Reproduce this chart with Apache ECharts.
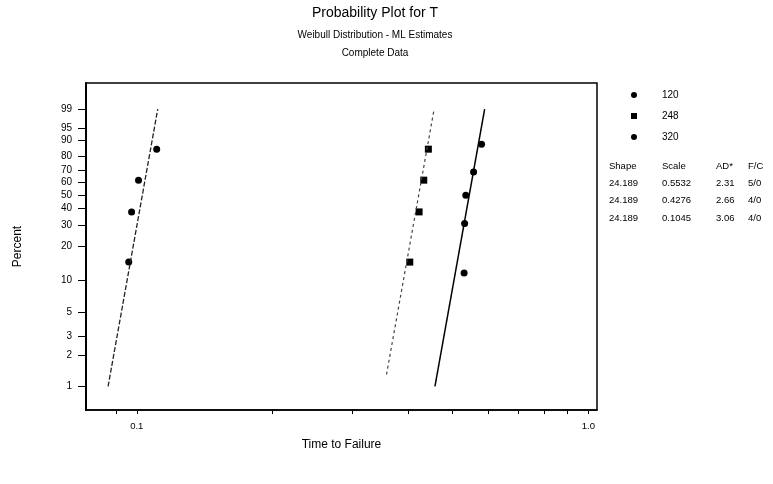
<!DOCTYPE html>
<html>
<head>
<meta charset="utf-8">
<script src="https://cdn.jsdelivr.net/npm/echarts@6/dist/echarts.min.js"></script>
<style>html,body{margin:0;padding:0;background:#fff}#main{width:773px;height:484px}</style>
</head>
<body>
<div id="main"></div>
<script>
var groups = ['120', '248', '320'];
var times120 = [0.5307, 0.5321, 0.5353, 0.5570, 0.5801];
var pct120 = [11.6, 30.8, 49.7, 68.3, 88.0];
var times248 = [0.4023, 0.4219, 0.4320, 0.4423];
var pct248 = [14.5, 37.8, 61.6, 85.0];
var times320 = [0.0960, 0.0974, 0.1009, 0.1107];
var pct320 = [14.5, 37.8, 61.6, 85.0];
// fitted lines: [time, percent] end points
var fit120 = [[0.4574, 1], [0.5893, 99]];
var fit248 = [[0.3573, 1.3], [0.4555, 99]];
var fit320 = [[0.0864, 1], [0.1113, 99]];
var shapes = ['24.189', '24.189', '24.189'];
var scales = ['0.5532', '0.4276', '0.1045'];
var adStats = ['2.31', '2.66', '3.06'];
var fcCounts = ['5/0', '4/0', '4/0'];
var xTicks = [0.09, 0.1, 0.2, 0.3, 0.4, 0.5, 0.6, 0.7, 0.8, 0.9, 1.0];
var xLabels = [0.1, 1.0];
var yTicks = [1, 2, 3, 5, 10, 20, 30, 40, 50, 60, 70, 80, 90, 95, 99];

// weibull probability scale and log10 time scale
function wb(p) { return Math.log(-Math.log(1 - p / 100)); }
function lg(t) { return Math.log10(t); }
function pts(ts, ps) { return ts.map(function (t, i) { return [lg(t), wb(ps[i])]; }); }
function fit(f) { return f.map(function (d) { return [lg(d[0]), wb(d[1])]; }); }

var font = 'Arial, "Liberation Sans", sans-serif';
var myChart = echarts.init(document.getElementById('main'));

var table = [];
var cols = [609, 662, 716, 748];
var heads = ['Shape', 'Scale', 'AD*', 'F/C'];
heads.forEach(function (h, c) {
    table.push({ type: 'text', left: cols[c], top: 161, style: { text: h, font: '9.5px ' + font, fill: '#000' } });
});
for (var r = 0; r < groups.length; r++) {
    [shapes[r], scales[r], adStats[r], fcCounts[r]].forEach(function (v, c) {
        table.push({ type: 'text', left: cols[c], top: 178 + r * 17.5, style: { text: v, font: '9.5px ' + font, fill: '#000' } });
    });
}

option = {
    animation: false,
    backgroundColor: '#fff',
    title: [
        { text: 'Probability Plot for T', left: 370, top: 1, textAlign: 'center',
          textStyle: { fontFamily: font, fontSize: 14, fontWeight: 'normal', color: '#000' } },
        { text: 'Weibull Distribution - ML Estimates', left: 370, top: 25, textAlign: 'center',
          textStyle: { fontFamily: font, fontSize: 10, fontWeight: 'normal', color: '#000' } },
        { text: 'Complete Data', left: 370, top: 43, textAlign: 'center',
          textStyle: { fontFamily: font, fontSize: 10, fontWeight: 'normal', color: '#000' } }
    ],
    legend: {
        orient: 'vertical',
        left: 626,
        top: 84,
        itemWidth: 6,
        itemHeight: 6,
        itemGap: 9,
        textStyle: { fontFamily: font, fontSize: 10, color: '#000', lineHeight: 12, padding: [0, 0, 0, 20] },
        data: [
            { name: groups[0], icon: 'circle' },
            { name: groups[1], icon: 'rect' },
            { name: groups[2], icon: 'circle' }
        ]
    },
    grid: {
        left: 86, right: 176, top: 83, bottom: 74,
        show: true, borderColor: '#000', borderWidth: 1.5, backgroundColor: 'transparent'
    },
    xAxis: {
        type: 'value',
        min: lg(0.0772),
        max: lg(1.045),
        name: 'Time to Failure',
        nameLocation: 'middle',
        nameGap: 29,
        nameTextStyle: { fontFamily: font, fontSize: 12, color: '#000' },
        axisLine: { onZero: false, lineStyle: { color: '#000', width: 1.5 } },
        axisTick: { customValues: xTicks.map(lg), length: 4, lineStyle: { color: '#000' } },
        axisLabel: {
            customValues: xLabels.map(lg),
            margin: 11,
            fontFamily: font, fontSize: 9.5, color: '#000',
            formatter: function (v) { return Math.pow(10, v).toFixed(1); }
        },
        splitLine: { show: false }
    },
    yAxis: {
        type: 'value',
        min: -5.12,
        max: 2.102,
        name: 'Percent',
        nameLocation: 'middle',
        nameGap: 62,
        nameTextStyle: { fontFamily: font, fontSize: 12, color: '#000' },
        axisLine: { show: true, onZero: false, lineStyle: { color: '#000', width: 2 } },
        axisTick: { customValues: yTicks.map(wb), length: 8, lineStyle: { color: '#000' } },
        axisLabel: {
            customValues: yTicks.map(wb),
            margin: 14,
            fontFamily: font, fontSize: 10, color: '#000',
            formatter: function (v) { return Math.round(100 * (1 - Math.exp(-Math.exp(v)))); }
        },
        splitLine: { show: false }
    },
    graphic: table,
    series: [
        { name: 'fit120', type: 'line', data: fit(fit120), symbol: 'none', silent: true,
          lineStyle: { color: '#000', width: 1.5 } },
        { name: 'fit248', type: 'line', data: fit(fit248), symbol: 'none', silent: true,
          lineStyle: { color: '#444', width: 1.2, type: [3, 3] } },
        { name: 'fit320', type: 'line', data: fit(fit320), symbol: 'none', silent: true,
          lineStyle: { color: '#222', width: 1.3, type: [5, 2] } },
        { name: groups[0], type: 'scatter', data: pts(times120, pct120), symbol: 'circle', symbolSize: 7,
          itemStyle: { color: '#000', opacity: 1 } },
        { name: groups[1], type: 'scatter', data: pts(times248, pct248), symbol: 'rect', symbolSize: 7,
          itemStyle: { color: '#000', opacity: 1 } },
        { name: groups[2], type: 'scatter', data: pts(times320, pct320), symbol: 'circle', symbolSize: 7,
          itemStyle: { color: '#000', opacity: 1 } }
    ]
};

myChart.setOption(option);
</script>
</body>
</html>
